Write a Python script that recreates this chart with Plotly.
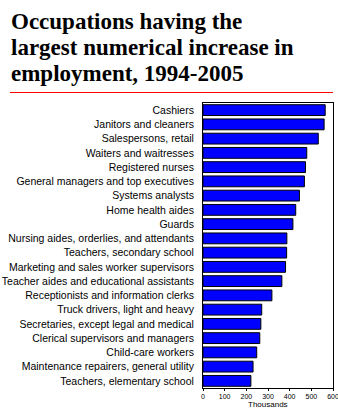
import plotly.graph_objects as go

occupations = [
    "Cashiers",
    "Janitors and cleaners",
    "Salespersons, retail",
    "Waiters and waitresses",
    "Registered nurses",
    "General managers and top executives",
    "Systems analysts",
    "Home health aides",
    "Guards",
    "Nursing aides, orderlies, and attendants",
    "Teachers, secondary school",
    "Marketing and sales worker supervisors",
    "Teacher aides and educational assistants",
    "Receptionists and information clerks",
    "Truck drivers, light and heavy",
    "Secretaries, except legal and medical",
    "Clerical supervisors and managers",
    "Child-care workers",
    "Maintenance repairers, general utility",
    "Teachers, elementary school",
]
increase_thousands = [564, 559, 532, 479, 473, 468, 445, 428, 415, 387,
                      386, 381, 364, 318, 271, 267, 262, 248, 231, 221]
tick_values = [0, 100, 200, 300, 400, 500, 600]
title_lines = ["Occupations having the",
               "largest numerical increase in",
               "employment, 1994-2005"]

PW = 130.0
PH = 285.0
def px_x(x):
    return (x - 203) / PW
def px_y(y):
    return (388 - y) / PH

annotations = []
for i, line in enumerate(title_lines):
    annotations.append(dict(
        text="<b>" + line + "</b>", showarrow=False,
        xref="paper", yref="paper", x=px_x(9), y=px_y(21 + 26.5 * i),
        xanchor="left", yanchor="middle",
        font=dict(family="Liberation Serif", size=23, color="black"),
    ))
annotations.append(dict(
    text="Thousands", showarrow=False,
    xref="paper", yref="paper", x=0.5, y=px_y(404),
    xanchor="center", yanchor="middle",
    font=dict(family="Liberation Sans", size=8, color="black"),
))

fig = go.Figure(go.Bar(
    x=increase_thousands,
    y=occupations,
    orientation="h",
    marker=dict(color="#0000FF", line=dict(color="black", width=1)),
))

fig.update_layout(
    width=338, height=415,
    margin=dict(l=203, r=5, t=103, b=27, autoexpand=False),
    paper_bgcolor="white", plot_bgcolor="white",
    showlegend=False,
    bargap=0.24,
    annotations=annotations,
    shapes=[dict(type="line", xref="paper", yref="paper",
                 x0=px_x(10), x1=px_x(333),
                 y0=px_y(92.5), y1=px_y(92.5),
                 line=dict(color="red", width=1))],
)
fig.update_xaxes(
    range=[0, 600], tickvals=tick_values, automargin=False,
    ticklabeloverflow="allow",
    showline=True, mirror=True, linecolor="black", linewidth=1,
    showgrid=False, zeroline=False,
    ticks="outside", ticklen=2, tickcolor="black",
    tickfont=dict(family="Liberation Sans", size=7, color="black"),
)
fig.update_yaxes(
    autorange="reversed", automargin=False,
    showline=True, mirror=True, linecolor="black", linewidth=1,
    showgrid=False, ticks="", ticklabelstandoff=6,
    tickfont=dict(family="Liberation Sans", size=10.5, color="black"),
)

fig.write_html("out.html")
